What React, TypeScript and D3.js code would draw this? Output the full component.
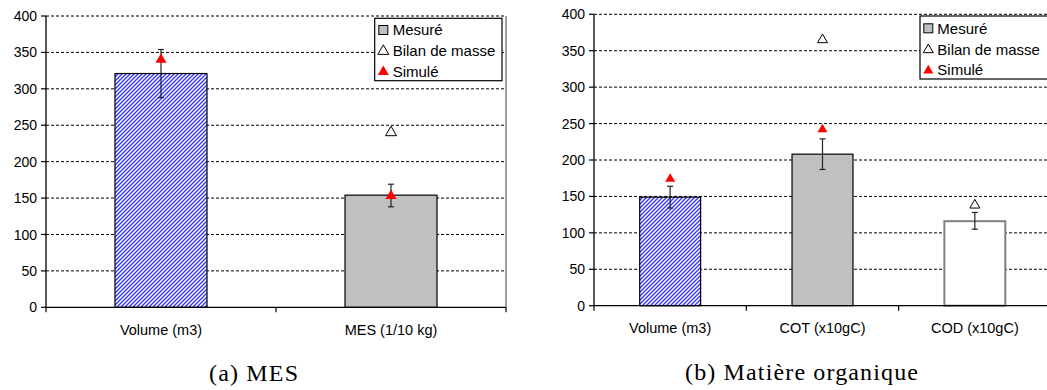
import React from "react";
import * as d3 from "d3";

const yTicks = [0, 50, 100, 150, 200, 250, 300, 350, 400];

const leftCategories = ["Volume (m3)", "MES (1/10 kg)"];
const leftMeasured = [321, 154];
const leftErrLow = [288, 138];
const leftErrHigh = [354, 169];
const leftSimulated: (number | null)[] = [340, 153];
const leftBilan: (number | null)[] = [null, 240];
const leftFills = ["hatch", "gray"];

const rightCategories = ["Volume (m3)", "COT (x10gC)", "COD (x10gC)"];
const rightMeasured = [149, 208, 116];
const rightErrLow = [134, 187, 105];
const rightErrHigh = [164, 229, 128];
const rightSimulated: (number | null)[] = [174, 242, null];
const rightBilan: (number | null)[] = [null, 365, 138];
const rightFills = ["hatch", "gray", "white"];

const legendLabels = ["Mesuré", "Bilan de masse", "Simulé"];

const SANS = "'Liberation Sans', Arial, sans-serif";
const SERIF = "'Liberation Serif', 'DejaVu Serif', serif";

type PanelProps = {
  id: string;
  categories: string[];
  measured: number[];
  errLow: number[];
  errHigh: number[];
  simulated: (number | null)[];
  bilan: (number | null)[];
  fills: string[];
  x0: number;
  x1: number;
  yTop: number;
  yBottom: number;
  triSide: number;
  labelBaseline: number;
  caption: string;
  captionX: number;
  captionY: number;
  captionLen: number;
  legend: { x: number; y: number; w: number; h: number; symX: number; textX: number; rows: number[] };
  drawRightBorder: boolean;
};

function Panel(p: PanelProps) {
  const x = d3.scaleBand<string>().domain(p.categories).range([p.x0, p.x1]).paddingInner(0).paddingOuter(0);
  const y = d3.scaleLinear().domain([0, 400]).range([p.yBottom, p.yTop]);
  const bw = x.bandwidth() * 0.4;
  const triArea = (p.triSide * p.triSide * Math.sqrt(3)) / 4;
  const tri = d3.symbol(d3.symbolTriangle, triArea)() as string;
  const fillOf = (f: string) => (f === "hatch" ? `url(#hatch-${p.id})` : f === "gray" ? "#c0c0c0" : "#ffffff");
  const strokeOf = (f: string) => (f === "white" ? "#808080" : "#000000");
  const boundaries = p.categories.map((c) => x(c)!).concat([p.x1]);
  return (
    <g>
      <defs>
        <pattern id={`hatch-${p.id}`} width={4} height={4} patternUnits="userSpaceOnUse">
          <rect width={4} height={4} fill="#ffffff" />
          <path d="M-1,1 L1,-1 M0,4 L4,0 M3,5 L5,3" stroke="#3535ff" strokeWidth={1.35} />
        </pattern>
      </defs>
      {yTicks.slice(1).map((t) => (
        <line key={t} x1={p.x0} x2={p.x1} y1={y(t)} y2={y(t)} stroke="#000" strokeWidth={1} strokeDasharray="3,2" />
      ))}
      {p.drawRightBorder && (
        <line x1={p.x1} x2={p.x1} y1={p.yTop} y2={p.yBottom} stroke="#808080" strokeWidth={1.5} />
      )}
      {p.categories.map((c, i) => {
        const cx = x(c)! + x.bandwidth() / 2;
        return (
          <rect
            key={c}
            x={cx - bw / 2}
            y={y(p.measured[i])}
            width={bw}
            height={y(0) - y(p.measured[i])}
            fill={fillOf(p.fills[i])}
            stroke={strokeOf(p.fills[i])}
            strokeWidth={p.fills[i] === "white" ? 2 : 1.2}
          />
        );
      })}
      {p.categories.map((c, i) => {
        const cx = x(c)! + x.bandwidth() / 2;
        return (
          <g key={c} stroke="#222" strokeWidth={1.2}>
            <line x1={cx} x2={cx} y1={y(p.errHigh[i])} y2={y(p.errLow[i])} />
            <line x1={cx - 3} x2={cx + 3} y1={y(p.errHigh[i])} y2={y(p.errHigh[i])} />
            <line x1={cx - 3} x2={cx + 3} y1={y(p.errLow[i])} y2={y(p.errLow[i])} />
          </g>
        );
      })}
      {p.categories.map((c, i) =>
        p.simulated[i] == null ? null : (
          <path key={c} d={tri} transform={`translate(${x(c)! + x.bandwidth() / 2},${y(p.simulated[i] as number)})`} fill="#ff0000" />
        )
      )}
      {p.categories.map((c, i) =>
        p.bilan[i] == null ? null : (
          <path key={c} d={tri} transform={`translate(${x(c)! + x.bandwidth() / 2},${y(p.bilan[i] as number)})`} fill="#fff" stroke="#000" strokeWidth={1} />
        )
      )}
      <line x1={p.x0} x2={p.x0} y1={p.yTop} y2={p.yBottom} stroke="#000" strokeWidth={1.3} />
      <line x1={p.x0} x2={p.x1} y1={p.yBottom} y2={p.yBottom} stroke="#000" strokeWidth={1.3} />
      {yTicks.map((t) => (
        <g key={t}>
          <line x1={p.x0 - 5} x2={p.x0} y1={y(t)} y2={y(t)} stroke="#000" strokeWidth={1.2} />
          <text x={p.x0 - 9} y={y(t)} dy="0.36em" textAnchor="end" fontFamily={SANS} fontSize={14} fill="#000">
            {t}
          </text>
        </g>
      ))}
      {boundaries.map((b, i) => (
        <line key={i} x1={b} x2={b} y1={p.yBottom} y2={p.yBottom + 5} stroke="#000" strokeWidth={1.2} />
      ))}
      {p.categories.map((c) => (
        <text key={c} x={x(c)! + x.bandwidth() / 2} y={p.labelBaseline} textAnchor="middle" fontFamily={SANS} fontSize={14.5} fill="#000">
          {c}
        </text>
      ))}
      <rect x={p.legend.x} y={p.legend.y} width={p.legend.w} height={p.legend.h} fill="#fff" stroke="#000" strokeWidth={1.2} />
      {legendLabels.map((l, i) => {
        const ry = p.legend.rows[i];
        const sx = p.legend.symX;
        return (
          <g key={l}>
            {i === 0 && <rect x={sx - 4.5} y={ry - 4.5} width={9} height={9} fill="#c0c0c0" stroke="#000" strokeWidth={1} />}
            {i === 1 && <path d={tri} transform={`translate(${sx},${ry + 0.5})`} fill="#fff" stroke="#000" strokeWidth={1} />}
            {i === 2 && <path d={tri} transform={`translate(${sx},${ry + 0.5})`} fill="#ff0000" />}
            <text x={p.legend.textX} y={ry} dy="0.36em" fontFamily={SANS} fontSize={15} fill="#000">
              {l}
            </text>
          </g>
        );
      })}
      <text x={p.captionX} y={p.captionY} textAnchor="middle" fontFamily={SERIF} fontSize={24} fill="#000" textLength={p.captionLen} lengthAdjust="spacing">
        {p.caption}
      </text>
    </g>
  );
}

export default function App() {
  return (
    <svg width={1047} height={390} style={{ position: "absolute", left: 0, top: 0, background: "#fff" }}>
      <rect width={1047} height={390} fill="#fff" />
      <Panel
        id="a"
        categories={leftCategories}
        measured={leftMeasured}
        errLow={leftErrLow}
        errHigh={leftErrHigh}
        simulated={leftSimulated}
        bilan={leftBilan}
        fills={leftFills}
        x0={46}
        x1={506}
        yTop={16}
        yBottom={307.3}
        triSide={11}
        labelBaseline={335}
        caption="(a) MES"
        captionX={253.5}
        captionY={381}
        captionLen={89}
        legend={{ x: 374.7, y: 18.3, w: 127.3, h: 62.4, symX: 383.3, textX: 392.7, rows: [30, 50.7, 71.3] }}
        drawRightBorder={true}
      />
      <Panel
        id="b"
        categories={rightCategories}
        measured={rightMeasured}
        errLow={rightErrLow}
        errHigh={rightErrHigh}
        simulated={rightSimulated}
        bilan={rightBilan}
        fills={rightFills}
        x0={594}
        x1={1051}
        yTop={14.3}
        yBottom={305.7}
        triSide={10}
        labelBaseline={333}
        caption="(b) Matière organique"
        captionX={801.5}
        captionY={380}
        captionLen={233}
        legend={{ x: 920, y: 16, w: 140, h: 63, symX: 928.3, textX: 937.3, rows: [28.3, 49.3, 70] }}
        drawRightBorder={true}
      />
    </svg>
  );
}
